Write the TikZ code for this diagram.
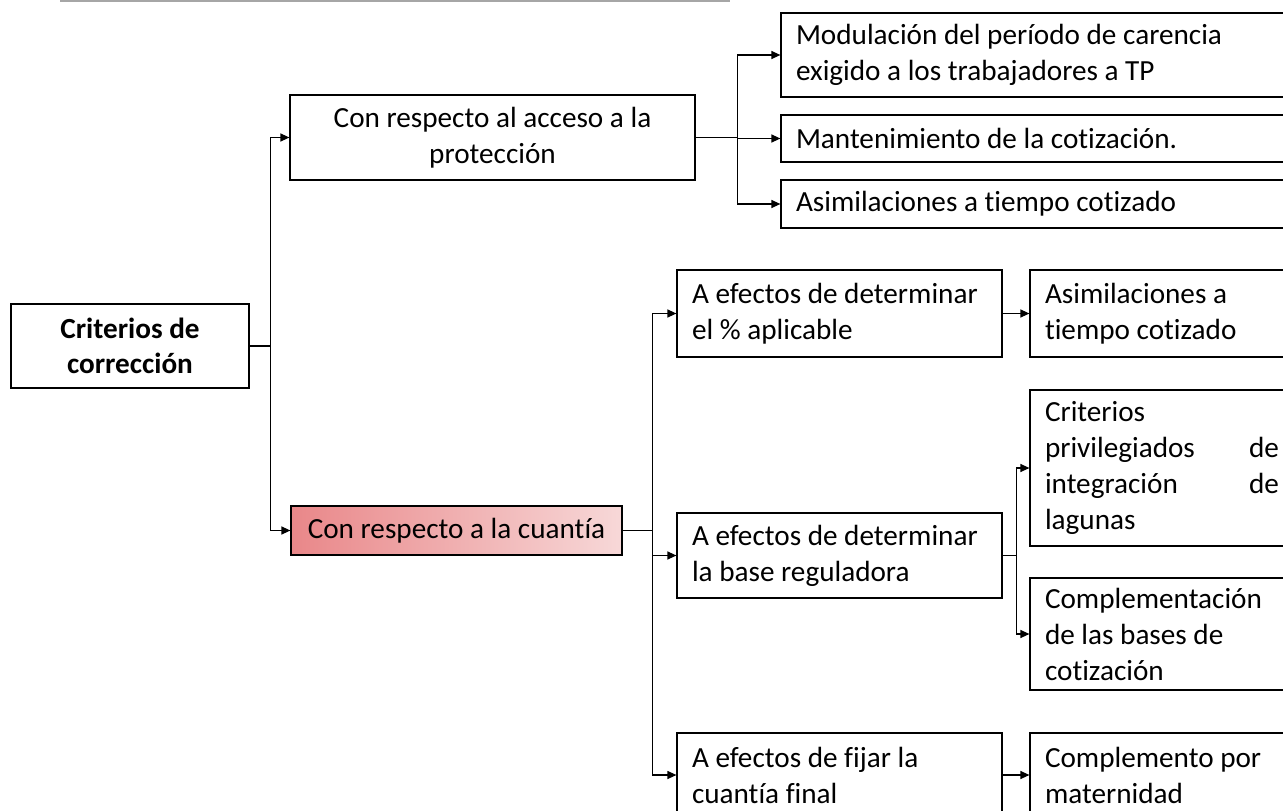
\documentclass[tikz,border=0pt]{standalone}
\usepackage{fontspec}
\setmainfont{Carlito}[Ligatures={TeX,NoCommon}]
\usetikzlibrary{arrows.meta}

\definecolor{cuantA}{RGB}{233,135,137}
\definecolor{cuantB}{RGB}{247,216,216}

\begin{document}
\begin{tikzpicture}[x=1pt,y=-1pt,
  box/.style={draw,line width=1.2pt,rectangle,inner xsep=15pt,inner ysep=0pt,
    font=\fontsize{29.2}{36}\selectfont},
  leftbox/.style={box,align=flush left,text width=#1},
  link/.style={line width=1.2pt,-{Triangle[length=9pt,width=8pt]}}]
\useasboundingbox (0,0) rectangle (1283,811);
\clip (0,0) rectangle (1283,811);

\draw[gray!70,line width=1.5pt] (60,1) -- (730,1);

\node[box,align=flush center,minimum width=238pt,minimum height=84pt,font=\fontsize{29.2}{35}\selectfont\bfseries] (crit) at (130,346) {Criterios de\\corrección};
\node[box,align=flush center,minimum width=405pt,minimum height=85pt] (acceso) at (492.5,137.5) {Con respecto al acceso a la\\protección};
\node[box,align=flush center,minimum width=331pt,minimum height=49pt,left color=cuantA,right color=cuantB] (cuant) at (456.5,530.5) {Con respecto a la cuantía};

\node[leftbox=484pt,minimum height=84pt] (mod) at (1038,55) {Modulación del período de carencia\\exigido a los trabajadores a TP};
\node[leftbox=484pt,minimum height=47pt] (mant) at (1038,138.5) {Mantenimiento de la cotización.};
\node[leftbox=484pt,minimum height=48pt] (asimA) at (1038,204) {Asimilaciones a tiempo cotizado};

\node[leftbox=295pt,minimum height=87pt] (apl) at (839.5,313.5) {A efectos de determinar\\el \% aplicable};
\node[leftbox=295pt,minimum height=85pt] (base) at (839.5,555.5) {A efectos de determinar\\la base reguladora};
\node[leftbox=295pt,minimum height=84pt] (fijar) at (839.5,775) {A efectos de fijar la\\cuantía final};

\node[leftbox=234pt,minimum height=87pt] (asimB) at (1162,313.5) {Asimilaciones a\\tiempo cotizado};
\node[leftbox=234pt,minimum height=156pt] (priv) at (1162,468) {Criterios\\privilegiados\hfill de\\integración\hfill de\\lagunas};
\node[leftbox=234pt,minimum height=112pt] (compl) at (1162,634) {Complementación\\de las bases de\\cotización};
\node[leftbox=234pt,minimum height=84pt] (matern) at (1162,775) {Complemento por\\maternidad};

\draw[link] (crit.east) -- ++(21,0) |- (acceso.west);
\draw[link] (crit.east) -- ++(21,0) |- (cuant.west);

\draw[link] (acceso.east) -- ++(42,0) |- (mod.west);
\draw[link] (acceso.east) -- ++(42,0) |- (mant.west);
\draw[link] (acceso.east) -- ++(42,0) |- (asimA.west);

\draw[link] (cuant.east) -- ++(30,0) |- (apl.west);
\draw[link] (cuant.east) -- ++(30,0) |- (base.west);
\draw[link] (cuant.east) -- ++(30,0) |- (fijar.west);

\draw[link] (apl) -- (asimB);
\draw[link] (base.east) -- ++(14,0) |- (priv.west);
\draw[link] (base.east) -- ++(14,0) |- (compl.west);
\draw[link] (fijar) -- (matern);
\end{tikzpicture}
\end{document}
